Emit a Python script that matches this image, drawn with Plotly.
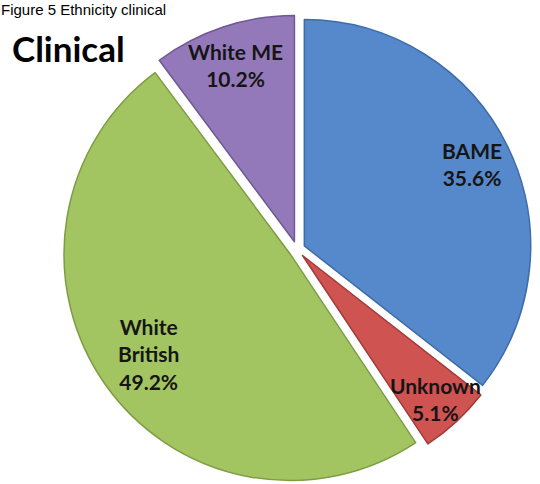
import math
import plotly.graph_objects as go

# ---- data ----
categories = ["BAME", "Unknown", "White British", "White ME"]
shares = [35.6, 5.1, 49.2, 10.2]
label_text = ["BAME<br>35.6%", "Unknown<br>5.1%", "White<br>British<br>49.2%", "White ME<br>10.2%"]

# ---- style ----
colors = ["#5689CC", "#CF5350", "#A3C561", "#9479BA"]
edge_colors = ["#3F6CA8", "#A23B39", "#7E9C44", "#6F5893"]
pull = 0.036
label_radius = [0.86, 0.90, 0.80, 0.86]   # fraction of pie radius for label placement

W, H = 540, 484
dom_x = [0.1148, 0.9852]
dom_y = [0.0, 0.9690]

fig = go.Figure()
fig.add_trace(go.Pie(
    labels=categories,
    values=shares,
    sort=False,
    direction="clockwise",
    rotation=0,
    pull=[pull] * len(shares),
    marker=dict(colors=colors, line=dict(color=edge_colors, width=1.5)),
    textinfo="none",
    hoverinfo="label+percent",
    showlegend=False,
    domain=dict(x=dom_x, y=dom_y),
))

# label positions derived from the pie geometry (same formula plotly uses)
box_w = W * (dom_x[1] - dom_x[0])
box_h = H * (dom_y[1] - dom_y[0])
r = min(box_w, box_h) / 2 / (1 + pull)
cx = W * (dom_x[0] + dom_x[1]) / 2
cy = H * (1 - (dom_y[0] + dom_y[1]) / 2)
total = sum(shares)
cum = 0.0
for val, txt, fr in zip(shares, label_text, label_radius):
    mid = (cum + val / 2) / total * 2 * math.pi
    cum += val
    px = cx + fr * r * math.sin(mid)
    py = cy - fr * r * math.cos(mid)
    fig.add_annotation(
        x=px / W, y=1 - py / H, xref="paper", yref="paper",
        text="<b>" + txt + "</b>", showarrow=False, xanchor="center", yanchor="middle",
        font=dict(family="Lato", size=21, color="#151515"),
        align="center",
    )

fig.add_annotation(
    x=0.0, y=1.0, xref="paper", yref="paper", xanchor="left", yanchor="top",
    text="Figure 5 Ethnicity clinical", showarrow=False,
    font=dict(family="Liberation Sans", size=15, color="#000000"),
    borderpad=0,
)
fig.add_annotation(
    x=0.018, y=0.900, xref="paper", yref="paper", xanchor="left", yanchor="middle",
    text="<b>Clinical</b>", showarrow=False,
    font=dict(family="Lato", size=35, color="#000000"),
)

fig.update_layout(
    width=W, height=H,
    margin=dict(l=0, r=0, t=0, b=0),
    paper_bgcolor="white", plot_bgcolor="white",
)
fig.write_html("out.html")
